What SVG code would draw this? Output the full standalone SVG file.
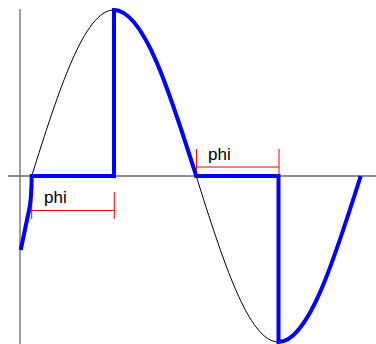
<svg xmlns="http://www.w3.org/2000/svg" width="376" height="344" viewBox="0 0 376 344">
<style>
.axis{stroke:#6a6a6a;stroke-width:1.3;fill:none}
.sine{stroke:#000;stroke-width:1;fill:none}
.out{stroke:#0000ff;stroke-width:4;fill:none;stroke-linejoin:miter}
.br{stroke:#ff0000;stroke-width:1;fill:none}
.lbl{font-family:"Liberation Sans",Arial,sans-serif;font-size:17px;fill:#000}
</style>
<rect width="376" height="344" fill="#fff"/>
<g id="axes">
<line class="axis" x1="20" y1="9" x2="20" y2="344"/>
<line class="axis" x1="8" y1="176" x2="376" y2="176"/>
</g>
<g id="sine">
<path class="sine" d="M31.7,176 C58.52,90.96 84.18,10 113.95,10 C143.72,10 169.38,90.96 196.2,176 C223.02,261.04 248.68,342 278.45,342 C308.22,342 333.88,261.04 360.7,176"/>
</g>
<g id="brackets">
<path class="br" d="M31.7,193 V219 M31.7,210.5 H114.3 M114.3,192 V219"/>
<path class="br" d="M196.5,149 V176 M196.5,167 H279 M279,149 V176"/>
</g>
<g id="output">
<path class="out" d="M20.7,250 L29.5,208 Q31.5,198 31.7,176 L114,176 L114,10 C143.72,10 169.38,90.96 196.2,176 L278.5,176 L278.5,342 C308.22,342 333.88,261.04 360.7,176"/>
</g>
<g id="labels">
<text class="lbl" x="44" y="202.5">phi</text>
<text class="lbl" x="208" y="159.5">phi</text>
</g>
</svg>
